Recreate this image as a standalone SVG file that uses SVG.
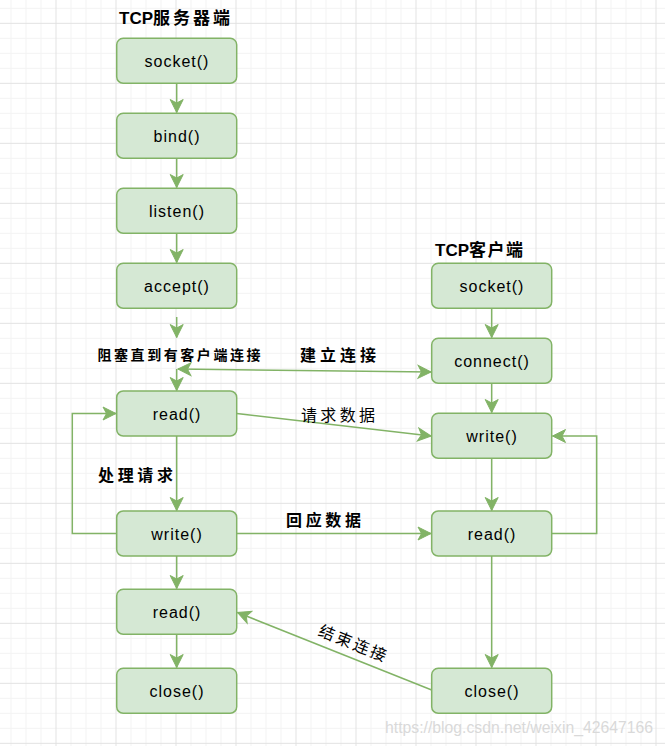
<svg xmlns="http://www.w3.org/2000/svg" width="665" height="746" viewBox="0 0 665 746">
<style>
.box{fill:#d5e8d4;stroke:#82b366;stroke-width:1.5}
.lbl{font-family:"Liberation Sans",Arial,sans-serif;font-size:16px;fill:#000;text-anchor:middle;letter-spacing:1px}
.e{fill:none;stroke:#82b366;stroke-width:1.5}
.cn{font-family:"Noto Sans CJK SC","Noto Sans",sans-serif;fill:#000}
.b{font-weight:bold}
.lat{font-family:"Liberation Sans",Arial,sans-serif;font-weight:bold}
</style>
<defs>
<pattern id="grid" x="55.5" y="22.83" width="60" height="60" patternUnits="userSpaceOnUse">
<path d="M15.5,0V60M30.5,0V60M45.5,0V60M0,15.5H60M0,30.5H60M0,45.5H60" stroke="#f3f3f3" stroke-width="1" fill="none"/>
<path d="M0.5,0V60M0,0.5H60" stroke="#e2e2e2" stroke-width="1" fill="none"/>
</pattern>
<marker id="a" viewBox="-14 -8 16 16" markerWidth="16" markerHeight="16" refX="0" refY="0" markerUnits="userSpaceOnUse" orient="auto-start-reverse">
<path d="M0,0L-13,-6.5L-9.5,0L-13,6.5Z" fill="#82b366" stroke="#82b366" stroke-width="1"/>
</marker>
</defs>
<rect width="665" height="746" fill="#ffffff"/>
<rect width="665" height="746" fill="url(#grid)"/>

<g id="connectors">
<path class="e" d="M176.7,83.3V112.5" marker-end="url(#a)"/>
<path class="e" d="M176.7,158.3V187.5" marker-end="url(#a)"/>
<path class="e" d="M176.7,233.3V262.5" marker-end="url(#a)"/>
<path class="e" d="M176.7,317V337.5" marker-end="url(#a)"/>
<path class="e" d="M176.7,369V390.5" marker-end="url(#a)"/>
<path class="e" d="M178,369L431,372" marker-start="url(#a)" marker-end="url(#a)"/>
<path class="e" d="M236.7,413.5L431,436" marker-end="url(#a)"/>
<path class="e" d="M116.7,533.5H72.3V413.5H116" marker-end="url(#a)"/>
<path class="e" d="M176.7,436V510.5" marker-end="url(#a)"/>
<path class="e" d="M236.7,533.5H431" marker-end="url(#a)"/>
<path class="e" d="M176.7,556V588.5" marker-end="url(#a)"/>
<path class="e" d="M176.7,634.3V667.5" marker-end="url(#a)"/>
<path class="e" d="M491.7,308.3V337.5" marker-end="url(#a)"/>
<path class="e" d="M491.7,383.3V412.5" marker-end="url(#a)"/>
<path class="e" d="M491.7,458.3V510.5" marker-end="url(#a)"/>
<path class="e" d="M491.7,556V667.5" marker-end="url(#a)"/>
<path class="e" d="M551.7,533.5H596.7V436H552.5" marker-end="url(#a)"/>
<path class="e" d="M431.7,690L237.5,612.5" marker-end="url(#a)"/>
</g>

<g id="server-title"><text class="cn b" x="119" y="24" font-size="17"><tspan class="lat">TCP</tspan><tspan letter-spacing="3">服务器端</tspan></text></g>
<g id="client-title"><text class="cn b" x="435" y="256" font-size="17"><tspan class="lat">TCP</tspan><tspan letter-spacing="1.5">客户端</tspan></text></g>

<g id="s-socket"><rect class="box" x="116.7" y="38.3" width="120" height="45" rx="6.5"/><text class="lbl" x="177" y="67">socket()</text></g>
<g id="s-bind"><rect class="box" x="116.7" y="113.3" width="120" height="45" rx="6.5"/><text class="lbl" x="177" y="142">bind()</text></g>
<g id="s-listen"><rect class="box" x="116.7" y="188.3" width="120" height="45" rx="6.5"/><text class="lbl" x="177" y="217">listen()</text></g>
<g id="s-accept"><rect class="box" x="116.7" y="263.3" width="120" height="45" rx="6.5"/><text class="lbl" x="177" y="292">accept()</text></g>
<g id="s-read"><rect class="box" x="116.7" y="391" width="120" height="45" rx="6.5"/><text class="lbl" x="177" y="419.5">read()</text></g>
<g id="s-write"><rect class="box" x="116.7" y="511" width="120" height="45" rx="6.5"/><text class="lbl" x="177" y="539.5">write()</text></g>
<g id="s-read2"><rect class="box" x="116.7" y="589.3" width="120" height="45" rx="6.5"/><text class="lbl" x="177" y="618">read()</text></g>
<g id="s-close"><rect class="box" x="116.7" y="668.3" width="120" height="45" rx="6.5"/><text class="lbl" x="177" y="697">close()</text></g>

<g id="c-socket"><rect class="box" x="431.7" y="263.3" width="120" height="45" rx="6.5"/><text class="lbl" x="492" y="292">socket()</text></g>
<g id="c-connect"><rect class="box" x="431.7" y="338.3" width="120" height="45" rx="6.5"/><text class="lbl" x="492" y="367">connect()</text></g>
<g id="c-write"><rect class="box" x="431.7" y="413.3" width="120" height="45" rx="6.5"/><text class="lbl" x="492" y="442">write()</text></g>
<g id="c-read"><rect class="box" x="431.7" y="511" width="120" height="45" rx="6.5"/><text class="lbl" x="492" y="539.5">read()</text></g>
<g id="c-close"><rect class="box" x="431.7" y="668.3" width="120" height="45" rx="6.5"/><text class="lbl" x="492" y="697">close()</text></g>

<g id="labels">
<text class="cn b" x="97.5" y="359.5" font-size="14" textLength="163" lengthAdjust="spacing">阻塞直到有客户端连接</text>
<text class="cn b" x="300" y="361" font-size="16" textLength="76" lengthAdjust="spacing">建立连接</text>
<text class="cn" x="301" y="421" font-size="16" textLength="74" lengthAdjust="spacing">请求数据</text>
<text class="cn b" x="98" y="481" font-size="16" textLength="75" lengthAdjust="spacing">处理请求</text>
<text class="cn b" x="286" y="526" font-size="16" textLength="75" lengthAdjust="spacing">回应数据</text>
<text class="cn" x="354" y="649" font-size="16" text-anchor="middle" letter-spacing="2.5" transform="rotate(22 353 643)">结束连接</text>
<text x="385" y="733" font-family="'Liberation Sans',Arial,sans-serif" font-size="16.5" fill="#d9d9d9" textLength="268" lengthAdjust="spacingAndGlyphs">https://blog.csdn.net/weixin_42647166</text>
</g>
</svg>
